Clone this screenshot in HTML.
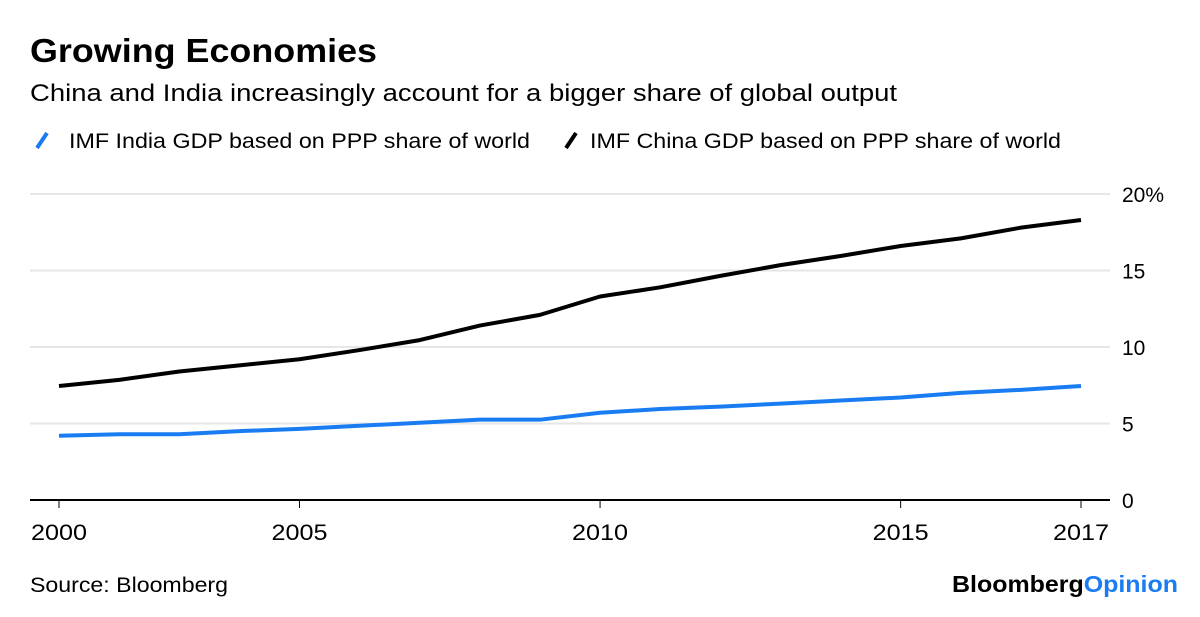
<!DOCTYPE html>
<html><head><meta charset="utf-8"><style>
body{margin:0;background:#fff;font-family:"Liberation Sans",Arial,sans-serif;}
</style></head><body>
<svg width="1200" height="612" xmlns="http://www.w3.org/2000/svg" font-family="Liberation Sans, Arial, sans-serif">
<text x="30" y="62" font-size="33" font-weight="bold" fill="#000" textLength="347" lengthAdjust="spacingAndGlyphs">Growing Economies</text>
<text x="30" y="101" font-size="24" fill="#000" textLength="867" lengthAdjust="spacingAndGlyphs">China and India increasingly account for a bigger share of global output</text>
<g>
<line x1="37" y1="148" x2="47" y2="133" stroke="#1a7cf2" stroke-width="4"/>
<text x="69" y="148" font-size="21" textLength="461" lengthAdjust="spacingAndGlyphs">IMF India GDP based on PPP share of world</text>
<line x1="566" y1="148" x2="576" y2="133" stroke="#000" stroke-width="4"/>
<text x="590" y="148" font-size="21" textLength="471" lengthAdjust="spacingAndGlyphs">IMF China GDP based on PPP share of world</text>
</g>
<g id="grid"></g><g id="series"></g><g id="axes"></g>
<text x="30" y="592" font-size="21" textLength="198" lengthAdjust="spacingAndGlyphs">Source: Bloomberg</text>
<text x="952" y="592" font-size="23" font-weight="bold" textLength="226" lengthAdjust="spacingAndGlyphs">Bloomberg<tspan fill="#1a7cf2">Opinion</tspan></text>
</svg>
<script>
const years=["2000","2001","2002","2003","2004","2005","2006","2007","2008","2009","2010","2011","2012","2013","2014","2015","2016","2017"];
const china=[7.45,7.85,8.4,8.8,9.2,9.8,10.45,11.4,12.1,13.3,13.9,14.65,15.35,15.95,16.6,17.1,17.8,18.3];
const india=[4.2,4.3,4.3,4.5,4.65,4.85,5.05,5.25,5.25,5.7,5.95,6.1,6.3,6.5,6.7,7.0,7.2,7.45];
const yTicks=[0,5,10,15,20];
const yTickLabels=["0","5","10","15","20%"];
const xTickIdx=[0,4,9,14,17];
const xTickLabels=["2000","2005","2010","2015","2017"];
const NS="http://www.w3.org/2000/svg";
const xs=i=>59+i*(1081-59)/(years.length-1);
const ys=v=>500-v*(500-194)/20;
function mk(tag,attrs,parent){const e=document.createElementNS(NS,tag);for(const k in attrs)e.setAttribute(k,attrs[k]);parent.appendChild(e);return e;}
const grid=document.getElementById('grid'),series=document.getElementById('series'),axes=document.getElementById('axes');
yTicks.forEach((t,i)=>{
 if(t>0){const g=mk('line',{x1:30,x2:1110,y1:ys(t),y2:ys(t),stroke:'#e6e6e6','stroke-width':2},grid);
 
 }
 const tx=mk('text',{x:1122,y:ys(t)+8,'font-size':21},axes);tx.textContent=yTickLabels[i];
 
 
});
function line(data,color,name){
 const p=mk('polyline',{points:data.map((v,i)=>xs(i)+','+ys(v)).join(' '),fill:'none',stroke:color,'stroke-width':4,'stroke-linejoin':'round'},series);
 
 
}
line(india,'#1a7cf2','india-line');
line(china,'#000','china-line');
const ax=mk('line',{x1:30,x2:1110,y1:500,y2:500,stroke:'#000','stroke-width':2},axes);


xTickIdx.forEach((idx,i)=>{
 const t=mk('line',{x1:xs(idx),x2:xs(idx),y1:500,y2:508,stroke:'#000','stroke-width':1},axes);
 
 
 const tx=mk('text',{x:xs(idx)-28,y:540,'font-size':22,textLength:56,lengthAdjust:'spacingAndGlyphs'},axes);tx.textContent=xTickLabels[i];
 
 
});
</script>
</body></html>
